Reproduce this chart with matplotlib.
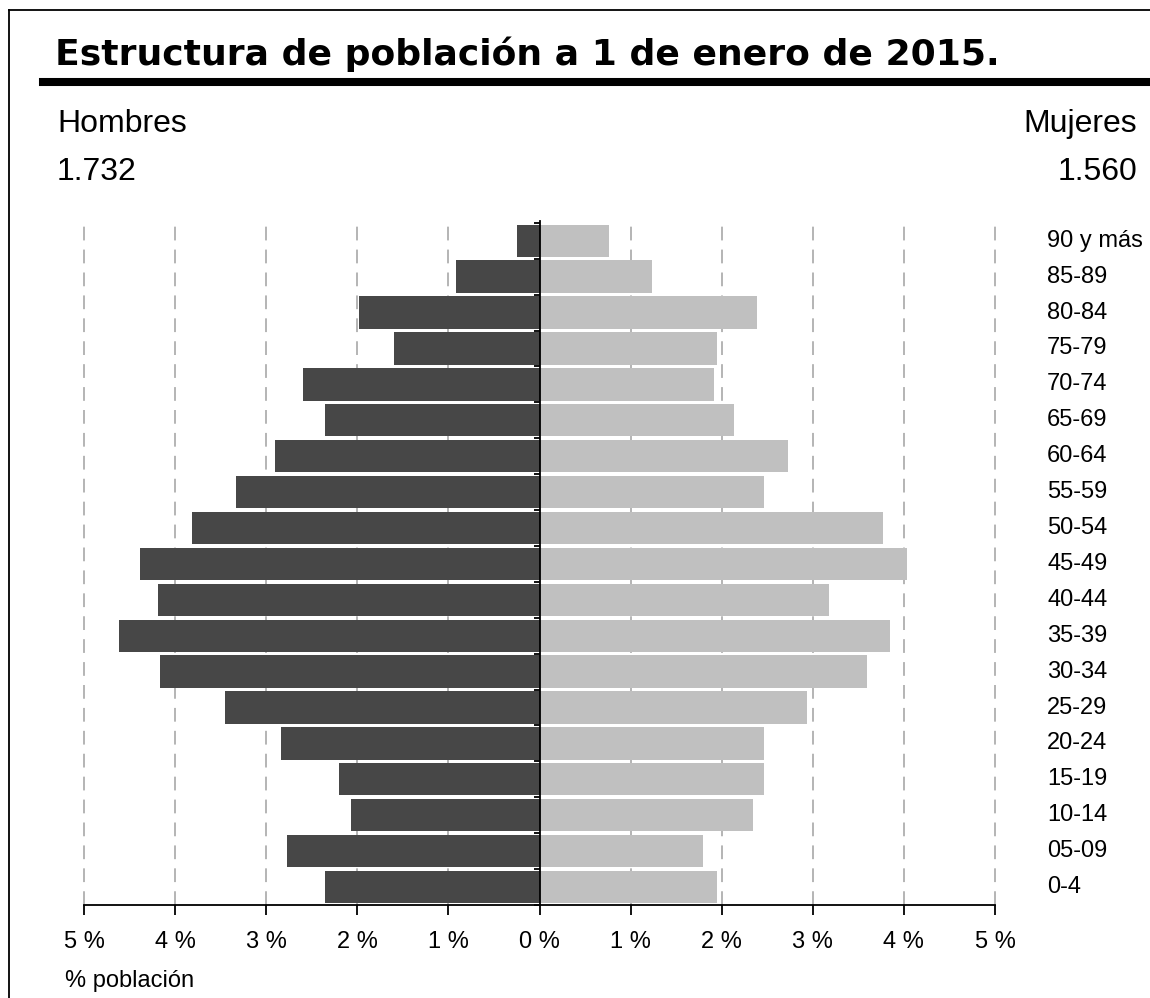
import matplotlib
matplotlib.use('Agg')
from matplotlib import pyplot as plt
from matplotlib.lines import Line2D
from matplotlib.transforms import blended_transform_factory
import numpy as np

plt.rcParams['font.family'] = ['Liberation Sans', 'DejaVu Sans']

# Grupos de edad (de abajo hacia arriba)
grupos = ['0-4', '05-09', '10-14', '15-19', '20-24', '25-29', '30-34', '35-39',
          '40-44', '45-49', '50-54', '55-59', '60-64', '65-69', '70-74', '75-79',
          '80-84', '85-89', '90 y más']

# % de población
hombres = [2.36, 2.77, 2.07, 2.20, 2.84, 3.45, 4.17, 4.62, 4.19, 4.38, 3.81,
           3.33, 2.90, 2.36, 2.60, 1.60, 1.98, 0.92, 0.25]
mujeres = [1.95, 1.79, 2.34, 2.46, 2.46, 2.94, 3.59, 3.85, 3.18, 4.03, 3.77,
           2.46, 2.73, 2.13, 1.91, 1.95, 2.39, 1.24, 0.76]

total_hombres = '1.732'
total_mujeres = '1.560'
ticks_x = [-5, -4, -3, -2, -1, 0, 1, 2, 3, 4, 5]

W, H = 1150, 998
fig = plt.figure(figsize=(W / 100, H / 100), dpi=100)
ax = fig.add_axes([84 / W, 93 / H, 911 / W, 684 / H])

y = np.arange(len(grupos))
ax.barh(y, [-h for h in hombres], height=0.9, color='#474747', zorder=3)
ax.barh(y, mujeres, height=0.9, color='#c0c0c0', zorder=3)

# Líneas de rejilla discontinuas
top = 18.55
for t in ticks_x:
    if t != 0:
        ax.plot([t, t], [-0.5, top], color='#a0a0a0', lw=1.1,
                ls=(0, (9, 6)), zorder=1, clip_on=False)

ax.set_xlim(-5, 5)
ax.set_ylim(-0.5, top)
ax.set_xticks(ticks_x)
ax.set_xticklabels([f'{abs(t)} %' for t in ticks_x], fontsize=17)
ax.tick_params(axis='x', direction='out', length=7, width=1.3, pad=12)
ax.set_yticks(np.arange(-0.5, 18.6, 0.5))
ax.set_yticklabels([])
ax.tick_params(axis='y', direction='out', length=4.5, width=1.3)

ax.spines['top'].set_visible(False)
ax.spines['right'].set_visible(False)
ax.spines['left'].set_position(('data', 0))
ax.spines['left'].set_linewidth(1.3)
ax.spines['left'].set_zorder(5)
ax.spines['bottom'].set_linewidth(1.3)
ax.set_axisbelow(False)

# Etiquetas de edad a la derecha
tr = blended_transform_factory(fig.transFigure, ax.transData)
for i, g in enumerate(grupos):
    ax.text(1047 / W, i, g, transform=tr, fontsize=17, va='center', ha='left')

# Textos superiores
fig.text(55 / W, 1 - 65 / H, 'Estructura de población a 1 de enero de 2015.',
         fontsize=26, fontweight='bold', family='DejaVu Sans',
         va='baseline', ha='left')
fig.add_artist(Line2D([43 / W, 1], [1 - 82 / H, 1 - 82 / H], color='black', lw=5.8))
fig.text(57 / W, 1 - 132 / H, 'Hombres', fontsize=23, va='baseline', ha='left')
fig.text(57 / W, 1 - 180 / H, total_hombres, fontsize=23, va='baseline', ha='left')
fig.text(1137 / W, 1 - 132 / H, 'Mujeres', fontsize=23, va='baseline', ha='right')
fig.text(1137 / W, 1 - 180 / H, total_mujeres, fontsize=23, va='baseline', ha='right')
fig.text(65 / W, 1 - 987 / H, '% población', fontsize=17, va='baseline', ha='left')

# Marco
fig.add_artist(Line2D([9 / W, 9 / W], [0, 1 - 10 / H], color='black', lw=1.3))
fig.add_artist(Line2D([9 / W, 1], [1 - 10 / H, 1 - 10 / H], color='black', lw=1.3))

fig.savefig('out.png', dpi=100, facecolor='white')
